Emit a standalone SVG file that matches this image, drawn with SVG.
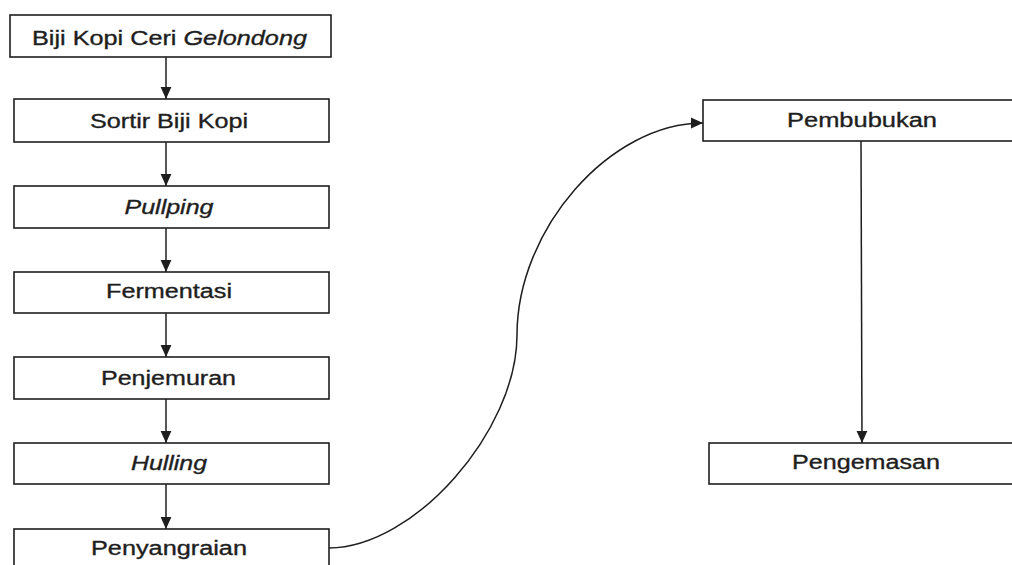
<svg xmlns="http://www.w3.org/2000/svg" width="1012" height="565" viewBox="0 0 1012 565">
<defs>
<style>
.box{fill:#fff;stroke:#1e1e1e;stroke-width:1.6}
.lbl{font-family:"Liberation Sans",Arial,sans-serif;font-size:20px;fill:#1e1e1e;stroke:#1e1e1e;stroke-width:0.35;text-anchor:middle}
.it{font-style:italic}
.con{fill:none;stroke:#1e1e1e;stroke-width:1.5}
</style>
<marker id="ah" viewBox="0 0 10 10" refX="10" refY="5" markerUnits="userSpaceOnUse" markerWidth="12" markerHeight="12" orient="auto">
<path d="M0,0.5 L10,5 L0,9.5 Z" fill="#1e1e1e"/>
</marker>
</defs>
<rect width="1012" height="565" fill="#fff"/>
<g id="connectors">
<path class="con" d="M166,57 V99" marker-end="url(#ah)"/>
<path class="con" d="M166,142 V186" marker-end="url(#ah)"/>
<path class="con" d="M166,228 V272" marker-end="url(#ah)"/>
<path class="con" d="M166,313 V357" marker-end="url(#ah)"/>
<path class="con" d="M166,399 V443" marker-end="url(#ah)"/>
<path class="con" d="M166,484 V529" marker-end="url(#ah)"/>
<path class="con" d="M329,548 C414,548 517,431 517,335 C517,229 610,123 703,123" marker-end="url(#ah)"/>
<path class="con" d="M861,141 L862,443" marker-end="url(#ah)"/>
</g>
<g id="n1"><rect class="box" x="10" y="15" width="321" height="42"/><text class="lbl" x="169.5" y="45" textLength="275" lengthAdjust="spacingAndGlyphs">Biji Kopi Ceri <tspan class="it">Gelondong</tspan></text></g>
<g id="n2"><rect class="box" x="14" y="99" width="315" height="43"/><text class="lbl" x="169" y="128" textLength="158" lengthAdjust="spacingAndGlyphs">Sortir Biji Kopi</text></g>
<g id="n3"><rect class="box" x="14" y="186" width="315" height="42"/><text class="lbl it" x="169" y="214" textLength="89" lengthAdjust="spacingAndGlyphs">Pullping</text></g>
<g id="n4"><rect class="box" x="14" y="272" width="315" height="41"/><text class="lbl" x="169" y="298" textLength="126" lengthAdjust="spacingAndGlyphs">Fermentasi</text></g>
<g id="n5"><rect class="box" x="14" y="357" width="315" height="42"/><text class="lbl" x="168.5" y="384.5" textLength="135" lengthAdjust="spacingAndGlyphs">Penjemuran</text></g>
<g id="n6"><rect class="box" x="14" y="443" width="315" height="41"/><text class="lbl it" x="169" y="470" textLength="76" lengthAdjust="spacingAndGlyphs">Hulling</text></g>
<g id="n7"><rect class="box" x="14" y="529" width="315" height="42"/><text class="lbl" x="169" y="555" textLength="156" lengthAdjust="spacingAndGlyphs">Penyangraian</text></g>
<g id="n8"><rect class="box" x="703" y="100" width="318" height="41"/><text class="lbl" x="862" y="126.7" textLength="150" lengthAdjust="spacingAndGlyphs">Pembubukan</text></g>
<g id="n9"><rect class="box" x="709" y="443" width="314" height="41"/><text class="lbl" x="866" y="469" textLength="148" lengthAdjust="spacingAndGlyphs">Pengemasan</text></g>
</svg>
